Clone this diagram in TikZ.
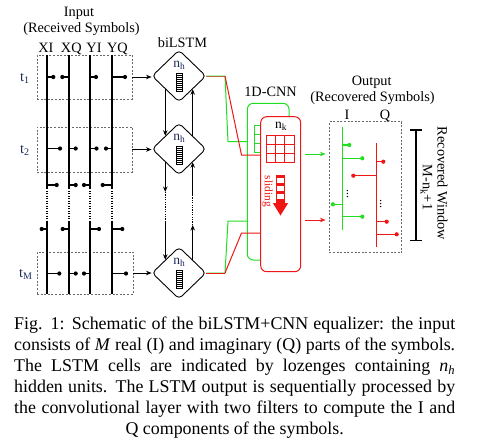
\documentclass[tikz,border=0pt]{standalone}
\usepackage{fontspec}
\setmainfont{Liberation Serif}
\usetikzlibrary{arrows.meta,shapes.geometric,calc}
\definecolor{gr}{RGB}{34,222,34}
\definecolor{rd}{RGB}{240,22,22}
\definecolor{navy}{RGB}{28,42,92}
\definecolor{boxgray}{RGB}{105,105,105}
\newcommand{\stm}[4][black]{\draw[#1, line width=1.1pt] (#2,#4) -- (#3,#4); \fill[#1] (#3,#4) circle (2.1pt);}
\newcommand{\unitstack}[2]{%
  \draw[line width=0.45pt] (#1-3.3,#2) rectangle (#1+3.3,#2+18.4);
  \foreach \k in {1,...,8} \draw[line width=0.45pt] (#1-3.3,#2+\k*2.044) -- (#1+3.3,#2+\k*2.044);}
\begin{document}
\begin{tikzpicture}[x=1pt,y=-1pt,
  lbl/.style={font=\fontsize{14.3}{16}\selectfont, inner sep=0pt},
  inbox/.style={draw=boxgray, dash pattern=on 2pt off 1.6pt, line width=0.6pt, inner sep=0pt},
  sig/.style={line width=1.3pt},
  arr/.style={-{Stealth[length=5.5pt,width=4.5pt]}, line width=0.9pt},
  loz/.style={diamond, draw, line width=0.9pt, rounded corners=4pt, minimum width=54pt, minimum height=52pt, inner sep=0pt},
  conn/.style={line width=1pt},
]
\useasboundingbox (0,0) rectangle (504,445);
\fill[white] (0,0) rectangle (504,445);

% ---------- input ----------
\node[lbl, anchor=base] (tin) at (79,16.5) {Input};
\node[lbl, anchor=base] (tin2) at (81.5,32.5) {(Received Symbols)};
\node[lbl, anchor=base] (xi) at (45.8,52.7) {XI};
\node[lbl, anchor=base] (xq) at (71.3,52.7) {XQ};
\node[lbl, anchor=base] (yi) at (94,52.7) {YI};
\node[lbl, anchor=base] (yq) at (117.5,52.7) {YQ};

\node[lbl, anchor=base west, text=navy] (t1) at (20,81) {t\textsubscript{1}};
\node[lbl, anchor=base west, text=navy] (t2) at (20,153) {t\textsubscript{2}};
\node[lbl, anchor=base west, text=navy] (tM) at (19,277) {t\textsubscript{M}};

\node[inbox, minimum width=95pt, minimum height=44pt] (b1) at (84.5,77) {};
\node[inbox, minimum width=95pt, minimum height=45pt] (b2) at (84.5,149.5) {};
\node[inbox, minimum width=96pt, minimum height=42pt] (bM) at (85,273) {};

\foreach \xx in {47,69,90,112}{
  \draw[sig] (\xx,55) -- (\xx,188);
  \draw[line width=1.3pt, dash pattern=on 1.3pt off 1.2pt] (\xx,188) -- (\xx,221);
  \draw[sig] (\xx,221) -- (\xx,294);
}
% row 1
\stm{47}{53.3}{77}\stm{69}{62.3}{77}\stm{90}{96}{77}\stm{112}{125}{77}
% row 2
\stm{47}{60}{148.5}\stm{69}{75.7}{148.5}\stm{90}{96.5}{148.5}\stm{112}{106}{148.5}
% row 3
\stm{47}{56.7}{185}\stm{69}{75.7}{185}\stm{90}{84}{185}\stm{112}{102.7}{185}
% row 4
\stm{47}{41.7}{229}\stm{69}{62.7}{229}\stm{90}{99}{229}\stm{112}{122.3}{229}
% row 5
\stm{47}{59.3}{273.5}\stm{69}{75.7}{273.5}\stm{90}{84}{273.5}\stm{112}{126}{273.5}

% ---------- biLSTM ----------
\node[lbl, anchor=base] (tbl) at (182.5,47) {biLSTM};
\node[loz] (L1) at (179,76) {};
\node[loz] (L2) at (179,149) {};
\node[loz] (LM) at (179,273) {};
\foreach \nn/\cy in {L1/76,L2/149,LM/273}{
  \node[anchor=base, inner sep=0pt, text=navy, font=\fontsize{13.5}{15}\selectfont] (\nn n) at (179.3,\cy-8.5) {n\textsubscript{h}};
  \unitstack{179.3}{\cy-2.7}
}
\draw[arr] (b1.east) -- (b1.east -| L1.west);
\draw[arr] (b2.east) -- (b2.east -| L2.west);
\draw[arr] (bM.east) -- (bM.east -| LM.west);

\draw[arr] (L1.south west) -- (L2.north west);
\draw[arr] (L2.north east) -- (L1.south east);
\coordinate (la) at (L2.south west |- 0,192);
\coordinate (lb) at (L2.south west |- 0,222);
\coordinate (ra) at (L2.south east |- 0,225);
\coordinate (rb) at (L2.south east |- 0,195);
\draw[arr] (L2.south west) -- (la);
\draw[line width=1.2pt, dash pattern=on 1.2pt off 1.2pt] (la) -- (lb);
\draw[arr] (lb) -- (LM.north west);
\draw[arr] (LM.north east) -- (ra);
\draw[line width=1.2pt, dash pattern=on 1.2pt off 1.2pt] (ra) -- (rb);
\draw[arr] (rb) -- (L2.south east);

% ---------- 1D-CNN ----------
\node[lbl, anchor=base] (tcnn) at (270.5,96.5) {1D-CNN};
\node[draw=gr, line width=1pt, rounded corners=6pt, minimum width=41.7pt, minimum height=156.7pt, inner sep=0pt] (gbox) at (268.15,181.65) {};
% green filter (partly hidden)
\draw[gr, line width=0.9pt] (254.3,125.7) rectangle (281.3,152.7);
\foreach \k in {1,2} {
  \draw[gr, line width=0.9pt] (254.3,125.7+\k*9) -- (281.3,125.7+\k*9);
  \draw[gr, line width=0.9pt] (254.3+\k*9,125.7) -- (254.3+\k*9,152.7);
}
\node[draw=rd, fill=white, line width=1pt, rounded corners=6pt, minimum width=40pt, minimum height=155pt, inner sep=0pt] (cnn) at (280.7,194.2) {};
\node[anchor=base, inner sep=0pt, font=\fontsize{13.5}{15}\selectfont] (nk) at (281,128.3) {n\textsubscript{k}};
\draw[rd, line width=0.9pt] (266.7,135) rectangle (294,162.3);
\foreach \k in {1,2} {
  \draw[rd, line width=0.9pt] (266.7,135+\k*9.1) -- (294,135+\k*9.1);
  \draw[rd, line width=0.9pt] (266.7+\k*9.1,135) -- (266.7+\k*9.1,162.3);
}
% sliding arrow
\fill[rd] (275.7,175) rectangle (285.3,203.5);
\fill[rd] (272.8,203) -- (288.2,203) -- (280.5,215.5) -- cycle;
\foreach \yy in {178.2,186.2,194.2} \fill[white] (277.3,\yy) rectangle (283.7,\yy+4.6);
\node[rotate=-90, text=rd, inner sep=0pt, font=\fontsize{11.4}{12}\selectfont] (sld) at (267.7,191.5) {sliding};

% connectors lozenges -> CNN
\coordinate (s1) at (225,76);
\coordinate (s2) at (225,273);
\draw[gr, conn] (L1.east) -- (s1) -- (228,141.7) -- (gbox.west |- 0,141.7);
\draw[rd, conn] (s1) -- (241.5,155) -- (cnn.west |- 0,155);
\draw[gr, conn] (LM.east) -- (s2) -- (228,221) -- (gbox.west |- 0,221);
\draw[rd, conn] (s2) -- (241.5,233) -- (cnn.west |- 0,233);
\draw[rd, conn, opacity=0.6] (L1.east) -- (s1);
\draw[rd, conn] (LM.east) -- (s2);

% CNN -> output arrows
\coordinate (ga) at (305,154);
\coordinate (gb) at (325.5,154);
\coordinate (ra2) at (305,220);
\coordinate (rb2) at (325.5,220);
\draw[arr, gr, line width=1pt] (ga) -- (gb);
\draw[arr, rd, line width=1pt] (ra2) -- (rb2);

% ---------- output ----------
\node[lbl, anchor=base] (tout) at (371.7,85) {Output};
\node[lbl, anchor=base] (tout2) at (372.5,101.5) {(Recovered Symbols)};
\node[lbl, anchor=base] (oi) at (347,119.8) {I};
\node[lbl, anchor=base] (oq) at (385,119.8) {Q};
\node[inbox, minimum width=72.4pt, minimum height=131pt] (obox) at (365.5,187.2) {};

\draw[gr, line width=1.1pt] (342.7,126.7) -- (342.7,230);
\stm[gr]{342.7}{349.3}{145}\stm[gr]{342.7}{362.3}{158.3}\stm[gr]{342.7}{332.9}{204.3}\stm[gr]{342.7}{362.3}{216.7}
\draw[rd, line width=1.1pt] (376.7,143.3) -- (376.7,247.3);
\stm[rd]{376.7}{383.3}{161.7}\stm[rd]{376.7}{353.3}{175.7}\stm[rd]{376.7}{386.7}{221.7}\stm[rd]{376.7}{396.7}{234.3}
\foreach \yy in {190.5,193.5,196.5} \fill (347.3,\yy) circle (0.75pt);
\foreach \yy in {200.5,203.5,206.5} \fill (380.7,\yy) circle (0.75pt);

% recovered window bracket
\coordinate (w1) at (416,130);
\coordinate (w2) at (416,240.7);
\draw[line width=1.2pt] (w1) -- (w2);
\draw[line width=1.2pt] ([xshift=-6pt]w1) -- ([xshift=6pt]w1);
\draw[line width=1.2pt] ([xshift=-6pt]w2) -- ([xshift=6pt]w2);
\node[lbl, rotate=-90] (mnk) at (426.5,187.5) {M-n\textsubscript{k}+1};
\node[lbl, rotate=-90] (rw) at (442.5,183.5) {Recovered Window};

% ---------- caption ----------
\node[anchor=north west, inner sep=0pt, align=left, font=\fontsize{17.9}{21}\selectfont] (cap) at (14,316.5) {%
\makebox[441pt][s]{Fig. 1: Schematic of the biLSTM+CNN equalizer: the input}\\
\makebox[441pt][s]{consists of \textit{M} real (I) and imaginary (Q) parts of the symbols.}\\
\makebox[441pt][s]{The LSTM cells are indicated by lozenges containing \textit{n}\textsubscript{\textit{h}}}\\
\makebox[441pt][s]{hidden units. The LSTM output is sequentially processed by}\\
\makebox[441pt][s]{the convolutional layer with two filters to compute the I and}\\
\makebox[441pt]{Q components of the symbols.}};
\end{tikzpicture}
\end{document}
